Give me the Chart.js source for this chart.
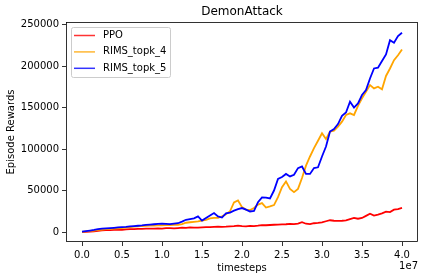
<!DOCTYPE html>
<html>
<head>
<meta charset="utf-8">
<script src="https://cdn.jsdelivr.net/npm/chart.js@4"></script>
<style>
html,body{margin:0;padding:0;background:#fff;}
canvas{display:block;}
</style>
</head>
<body>
<canvas id="c" width="424" height="280"></canvas>
<script>
// timesteps in millions
const timestepsM = [0,0.5,1,1.5,2,2.5,3,3.5,4,4.5,5,5.5,6,6.5,7,7.5,8,8.5,9,9.5,10,10.5,11,11.5,12,12.5,13,13.5,14,14.5,15,15.5,16,16.5,17,17.5,18,18.5,19,19.5,20,20.5,21,21.5,22,22.5,23,23.5,24,24.5,25,25.5,26,26.5,27,27.5,28,28.5,29,29.5,30,30.5,31,31.5,32,32.5,33,33.5,34,34.5,35,35.5,36,36.5,37,37.5,38,38.5,39,39.5,40];
// rewards in thousands
const ppoK = [0,0.3,0.6,0.9,1.5,1.9,2.2,2.4,2.6,2.8,2.5,3.2,3.6,3.5,3.8,3.7,4.0,4.2,4.1,4.5,4.2,4.6,4.8,4.5,4.8,5.2,5.0,5.5,5.4,5.2,5.6,6.0,5.8,6.2,6.5,6.3,6.4,6.8,7.0,7.6,7.0,6.8,7.4,7.2,7.6,8.4,8.2,8.5,8.8,9.0,9.2,9.4,9.8,9.6,10.2,11.8,10.0,9.6,10.6,11.0,11.6,13.0,14.2,13.6,13.4,13.6,14.0,15.6,17.0,16.0,16.9,19.5,22.0,19.8,21.0,22.5,24.5,24.0,27.0,27.5,29.0];
const topk4K = [0.3,0.8,1.3,1.8,2.6,3.0,3.4,3.8,4.2,4.5,4.8,5.4,6.0,6.4,6.8,7.3,7.6,7.8,7.9,8.0,8.1,8.3,8.5,8.7,8.8,9.6,11.2,11.8,12.3,12.8,13.8,14.6,16.5,17.0,17.0,19.0,21.5,25.0,35.7,38.0,30.0,27.0,26.5,29.0,33.0,34.9,29.5,30.8,32.5,42.0,54.0,61.0,52.0,48.0,52.0,65.0,80.0,91.0,101.0,110.0,119.0,112.0,121.0,122.0,127.0,133.0,141.0,143.0,141.0,152.0,161.0,169.0,177.0,173.0,175.0,172.0,188.0,197.0,207.0,213.0,220.0];
const topk5K = [0.5,1.2,1.8,2.5,3.5,4.0,4.3,4.6,5.0,5.5,6.0,6.3,6.8,7.2,7.6,8.0,8.6,9.0,9.4,9.8,10.0,9.8,9.6,10.2,10.6,12.5,14.8,15.6,16.5,18.8,13.8,17.0,20.0,22.9,18.8,17.4,22.5,23.5,25.7,27.5,28.9,27.0,24.8,25.5,36.0,41.7,41.5,40.5,50.0,64.0,66.3,70.0,67.0,69.0,77.0,79.0,70.0,70.0,77.0,78.0,91.0,103.0,121.0,124.0,130.0,140.0,144.0,157.0,150.0,155.0,165.0,171.0,185.0,197.0,198.0,206.0,214.0,231.0,228.0,236.0,240.0];
const seriesNames = ['PPO','RIMS_topk_4','RIMS_topk_5'];
const xTickValues = [0,5e6,10e6,15e6,20e6,25e6,30e6,35e6,40e6];
const yTickValues = [0,50000,100000,150000,200000,250000];
const chartTitle = 'DemonAttack';
const xTitle = 'timesteps';
const yTitle = 'Episode Rewards';
const xOffsetText = '1e7';

const FONT = '"DejaVu Sans", sans-serif';
const colors = ['#ff0000','#ffa500','#0000ff'];
const legendColors = ['rgba(255,0,0,0.8)','rgba(255,165,0,0.8)','rgba(0,0,255,0.8)'];

function pts(vals){ return timestepsM.map((t,i)=>({x:t*1e6, y:vals[i]*1000})); }

const frame = {
  id:'frame',
  afterDraw(chart){
    const {ctx, chartArea:a} = chart;
    ctx.save();
    ctx.strokeStyle = '#000';
    ctx.lineWidth = 0.8;
    ctx.strokeRect(Math.round(a.left)+0.5, Math.round(a.top)+0.5, Math.round(a.right-a.left)-1, Math.round(a.bottom-a.top)-1);
    // title
    ctx.fillStyle = '#000';
    ctx.font = '12px ' + FONT;
    ctx.textAlign = 'center';
    ctx.textBaseline = 'middle';
    ctx.fillText(chartTitle, (a.left+a.right)/2, 12);
    // offset text
    ctx.font = '10px ' + FONT;
    ctx.textAlign = 'right';
    ctx.fillText(xOffsetText, a.right, 266);
    // legend
    const ds = chart.data.datasets;
    const bx = a.left + 5, by = a.top + 5, bw = 99, rowH = 16.4, bh = 50;
    ctx.fillStyle = 'rgba(255,255,255,0.8)';
    ctx.strokeStyle = '#cccccc';
    ctx.lineWidth = 1;
    ctx.beginPath();
    if (ctx.roundRect) ctx.roundRect(bx+0.5, by+0.5, bw, bh, 2); else ctx.rect(bx+0.5, by+0.5, bw, bh);
    ctx.fill(); ctx.stroke();
    ctx.textAlign = 'left';
    ctx.textBaseline = 'middle';
    ds.forEach((d,i)=>{
      const cy = by + 8.5 + i*rowH;
      ctx.strokeStyle = legendColors[i];
      ctx.lineWidth = 1.5;
      ctx.beginPath(); ctx.moveTo(bx+3, cy); ctx.lineTo(bx+24, cy); ctx.stroke();
      ctx.fillStyle = '#000';
      ctx.fillText(d.label, bx+32, cy);
    });
    ctx.restore();
  }
};

new Chart(document.getElementById('c'), {
  type:'line',
  data:{
    datasets:[
      {label:seriesNames[0], data:pts(ppoK), borderColor:colors[0], borderWidth:1.8, pointRadius:0, tension:0, order:3},
      {label:seriesNames[1], data:pts(topk4K), borderColor:colors[1], borderWidth:1.8, pointRadius:0, tension:0, order:2},
      {label:seriesNames[2], data:pts(topk5K), borderColor:colors[2], borderWidth:1.8, pointRadius:0, tension:0, order:1}
    ]
  },
  options:{
    responsive:false,
    devicePixelRatio:1,
    animation:false,
    events:[],
    layout:{padding:{left:0,right:6,top:22,bottom:0}},
    plugins:{legend:{display:false}, title:{display:false}, tooltip:{enabled:false}},
    scales:{
      x:{
        type:'linear', min:-2e6, max:42e6,
        afterBuildTicks(ax){ ax.ticks = xTickValues.map(v=>({value:v})); },
        afterFit(ax){ ax.height = 38; },
        border:{display:false},
        grid:{drawOnChartArea:false, drawTicks:true, tickLength:4, color:'#000', lineWidth:0.8},
        ticks:{padding:3, color:'#000', font:{family:FONT, size:10}, maxRotation:0, autoSkip:false,
          callback:(v)=> (v/1e7).toFixed(1)},
        title:{display:true, text:xTitle, color:'#000', font:{family:FONT, size:10}, padding:{top:0,bottom:6}}
      },
      y:{
        type:'linear', min:-12000, max:253000,
        afterBuildTicks(ax){ ax.ticks = yTickValues.map(v=>({value:v})); },
        afterFit(ax){ ax.width = 66; },
        border:{display:false},
        grid:{drawOnChartArea:false, drawTicks:true, tickLength:4, color:'#000', lineWidth:0.8},
        ticks:{padding:3, color:'#000', font:{family:FONT, size:10}, autoSkip:false,
          callback:(v)=> String(v)},
        title:{display:true, text:yTitle, color:'#000', font:{family:FONT, size:10}, padding:{top:5,bottom:0}}
      }
    }
  },
  plugins:[frame]
});
</script>
</body>
</html>
